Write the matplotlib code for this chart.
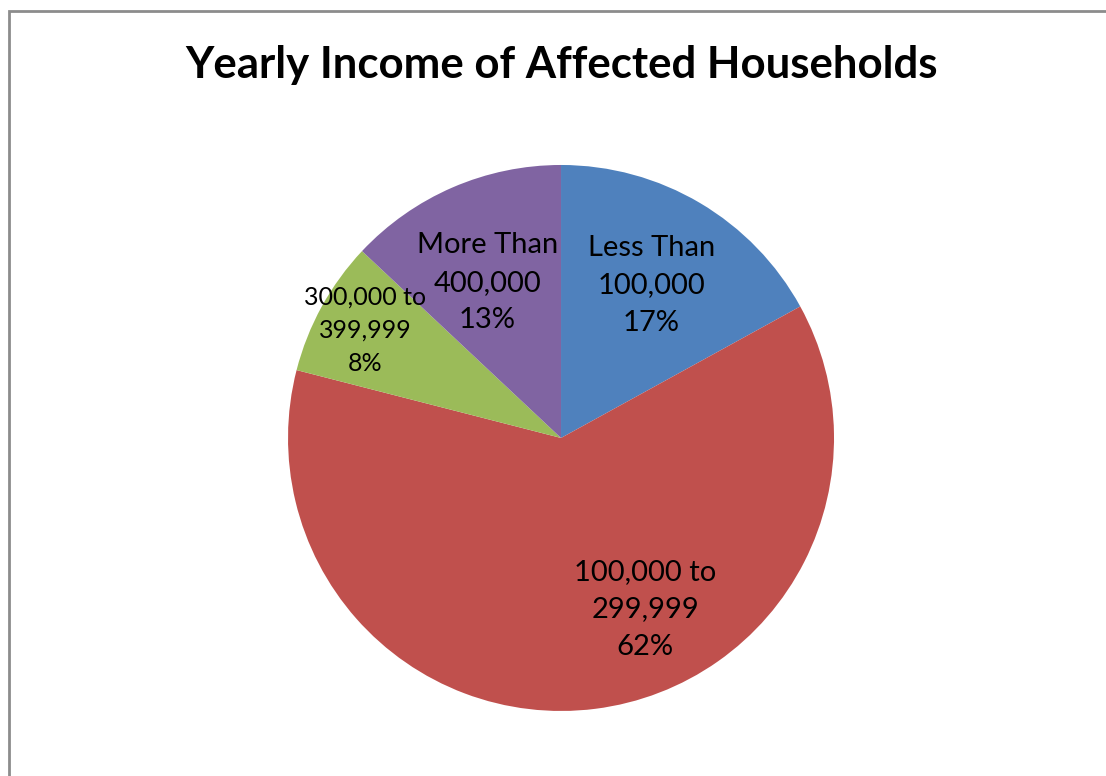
import matplotlib
matplotlib.use('Agg')
import matplotlib.pyplot as plt
import numpy as np

plt.rcParams['font.family'] = ['Lato', 'DejaVu Sans']

# data
categories = ['Less Than\n100,000', '100,000 to\n299,999', '300,000 to\n399,999', 'More Than\n400,000']
shares = [17, 62, 8, 13]
colors = ['#4F81BD', '#C0504D', '#9BBB59', '#8064A2']
# label placement: (radius fraction, angle offset from wedge middle in degrees, font size)
label_style = [(0.65, 0, 21), (0.70, 19, 21), (0.82, 0, 18), (0.63, 2, 21)]

fig = plt.figure(figsize=(11.06, 7.76), dpi=100)
ax = fig.add_axes([0.2604, 0.0838, 0.4937, 0.7036])

wedges, _ = ax.pie(shares, colors=colors, startangle=90, counterclock=False,
                   wedgeprops=dict(linewidth=0))
ax.set_xlim(-1, 1)
ax.set_ylim(-1, 1)
ax.set_aspect('equal')
ax.axis('off')

for w, cat, val, (rf, off, fs) in zip(wedges, categories, shares, label_style):
    mid = np.deg2rad((w.theta1 + w.theta2) / 2 + off)
    ax.text(rf * np.cos(mid), rf * np.sin(mid), f'{cat}\n{val}%',
            ha='center', va='center', fontsize=fs, linespacing=1.55)

fig.text(0.508, 1 - 65 / 776, 'Yearly Income of Affected Households',
         ha='center', va='center', fontsize=31.5, fontweight='bold')

# outer gray frame
fig.patches.append(plt.Rectangle((9 / 1106, -0.01), 1.02, 1 - 11 / 776 + 0.01,
                                 transform=fig.transFigure, fill=False,
                                 edgecolor='#8c8c8c', linewidth=2))

fig.savefig('out.png', dpi=100)
